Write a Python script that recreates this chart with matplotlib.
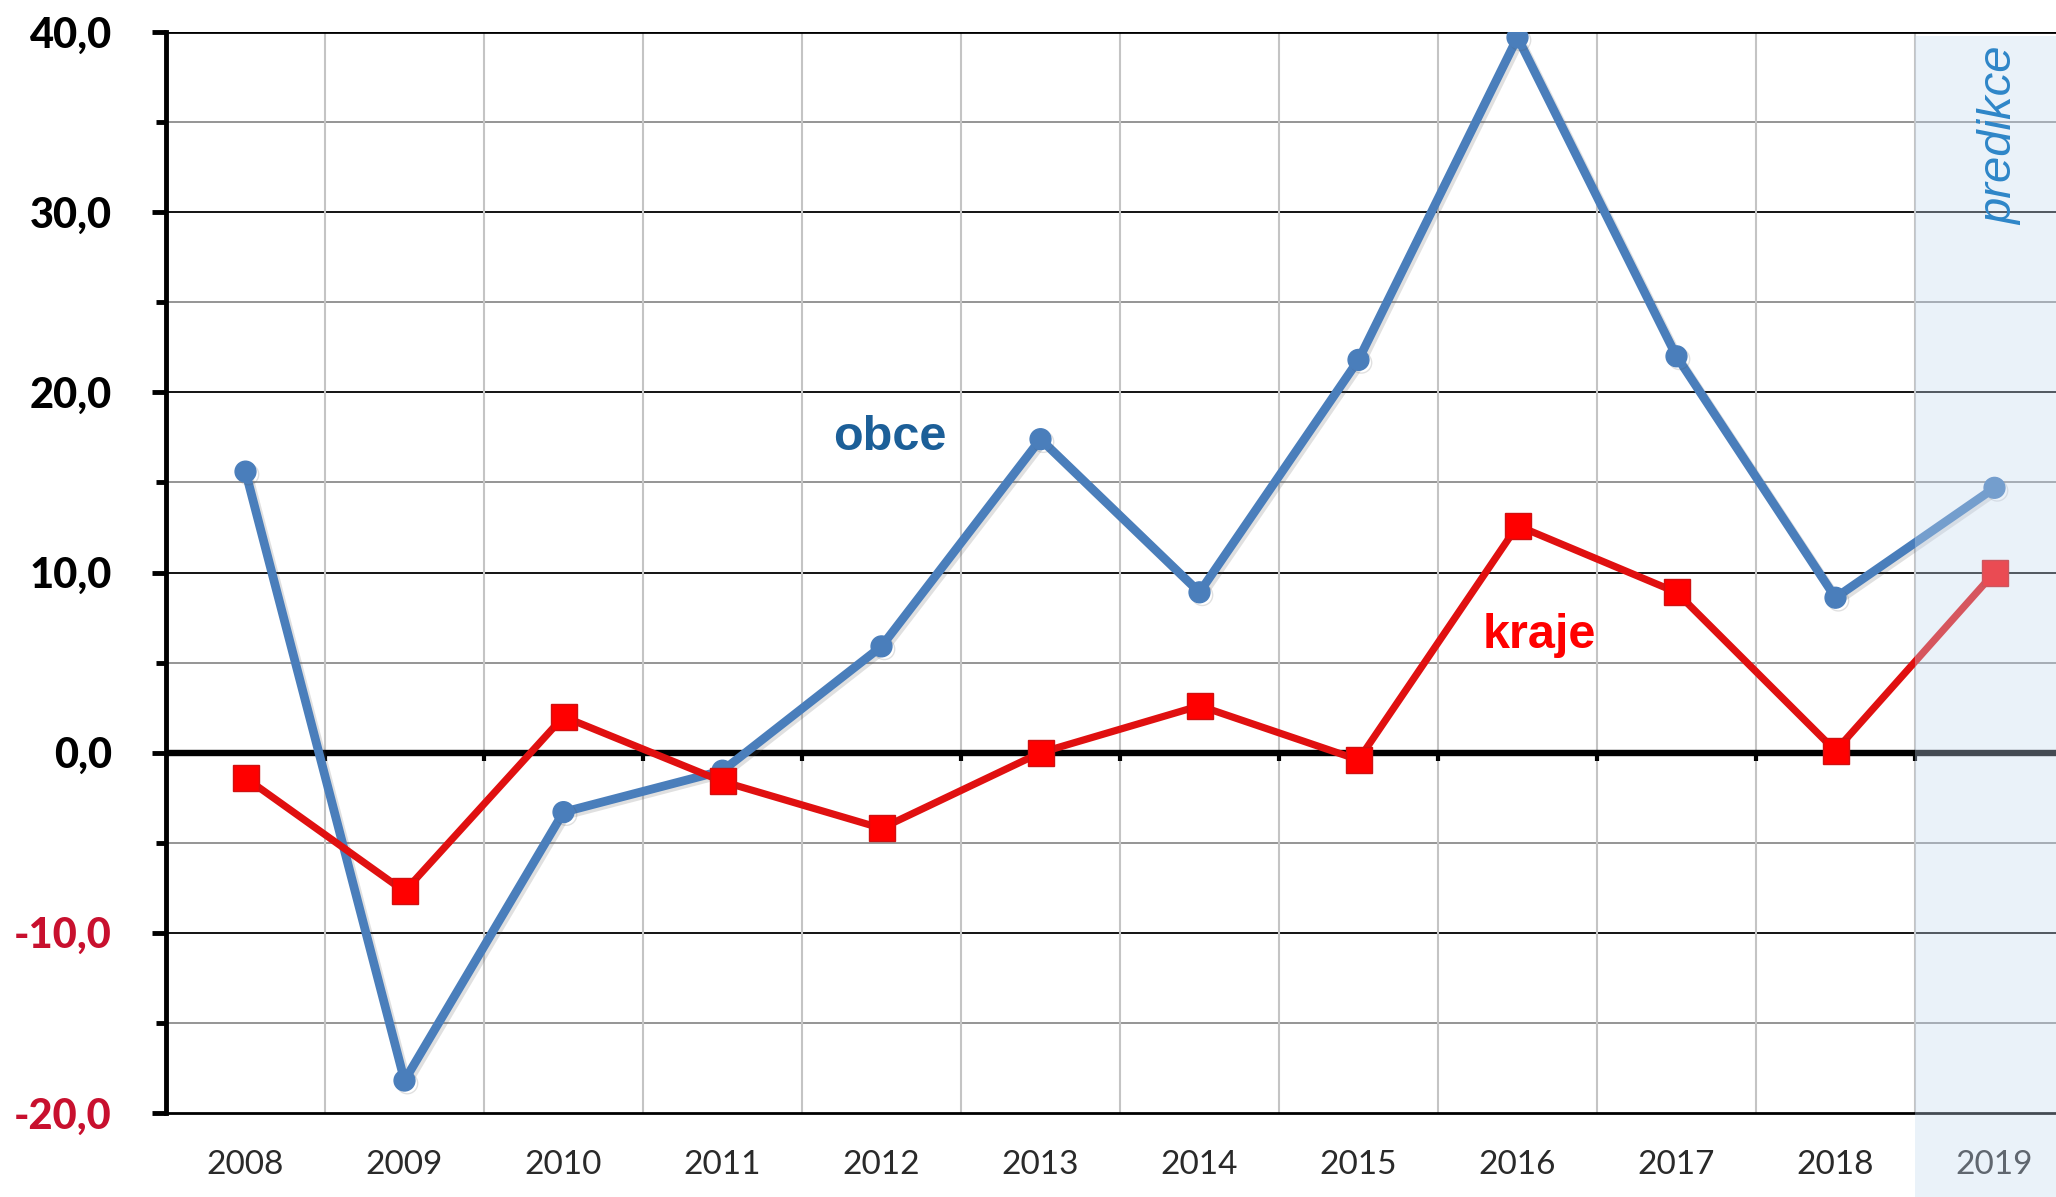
import numpy as np
import matplotlib.pyplot as plt
from matplotlib.patches import Rectangle
import matplotlib.patheffects as pe

# Roky a hodnoty
roky = ['2008', '2009', '2010', '2011', '2012', '2013', '2014',
        '2015', '2016', '2017', '2018', '2019']
obce = [15.6, -18.2, -3.3, -1.0, 5.9, 17.4, 8.9, 21.8, 39.7, 22.0, 8.6, 14.7]
kraje = [-1.4, -7.7, 2.0, -1.6, -4.2, 0.0, 2.6, -0.4, 12.6, 8.9, 0.1, 10.0]
y_ticks = [-20, -10, 0, 10, 20, 30, 40]

x = np.arange(len(roky))

fig = plt.figure(figsize=(20.56, 11.97), dpi=100)
ax = fig.add_axes([166/2056, 84/1197, 1908/2056, 1081/1197])

ax.set_xlim(-0.5, len(roky) - 0.5)
ax.set_ylim(-20, 40)

# mrizka
for v in np.arange(-15, 40, 5):
    c = 'black' if v % 10 == 0 else '#8c8c8c'
    ax.axhline(v, color=c, lw=1.3, zorder=1)
for b in np.arange(0.5, len(roky) - 0.5, 1):
    ax.axvline(b, color='#c4c4c4', lw=1.5, zorder=1)
ax.axhline(0, color='black', lw=4.6, zorder=2)
ax.vlines(np.arange(0.5, len(roky) - 1, 1), -0.45, 0, color='black', lw=3, zorder=2)

shadow = [pe.SimpleLineShadow(offset=(2, -2), alpha=0.18, shadow_color='#555555'), pe.Normal()]
ax.plot(x, obce, color='#4a7ebb', lw=6.3, marker='o', ms=15, zorder=3,
        path_effects=shadow)
ax.plot(x, kraje, color='#e01010', lw=5.2, marker='s', ms=19,
        markerfacecolor='#ff0000', markeredgecolor='#d01010', markeredgewidth=1,
        zorder=4)

ax.text(5 - 0.95, 17.5, 'obce', color='#1c5f98', fontsize=35, fontweight='bold',
        family='Liberation Sans', ha='center', va='center')
ax.text(8 + 0.14, 6.5, 'kraje', color='#ff0000', fontsize=35, fontweight='bold',
        family='Liberation Sans', ha='center', va='center')

for s in ['top', 'right']:
    ax.spines[s].set_visible(False)
ax.axhline(40, color='black', lw=2, zorder=1)
ax.spines['left'].set_linewidth(3.5)
ax.spines['bottom'].set_linewidth(2)

ax.set_xticks(x)
ax.set_xticklabels(roky, family='Lato', fontsize=24, color='#2a2a2a')
ax.tick_params(axis='x', length=0, pad=27)

ax.set_yticks(y_ticks)
ax.set_yticks(np.arange(-15, 40, 10), minor=True)
ax.set_yticklabels([f'{v},0' for v in y_ticks], family='Lato',
                   fontsize=30, fontweight=900)
for lbl, v in zip(ax.get_yticklabels(), y_ticks):
    lbl.set_color('#c8102e' if v < 0 else 'black')
ax.tick_params(axis='y', which='major', length=10, width=3.5, pad=29)
ax.tick_params(axis='y', which='minor', length=7, width=3.5)

# predikce - prekryv
fig.patches.append(Rectangle((1915/2056, 0), 1 - 1915/2056, 1 - 36/1197,
                             transform=fig.transFigure, facecolor='#c5daf0',
                             alpha=0.35, edgecolor='none', zorder=5))
fig.text(2000/2056, 1 - 136/1197, 'predikce', rotation=90, color='#2e86c8',
         fontsize=34, style='italic', family='Liberation Sans',
         ha='center', va='center', zorder=6)

fig.savefig('out.png', dpi=100)
